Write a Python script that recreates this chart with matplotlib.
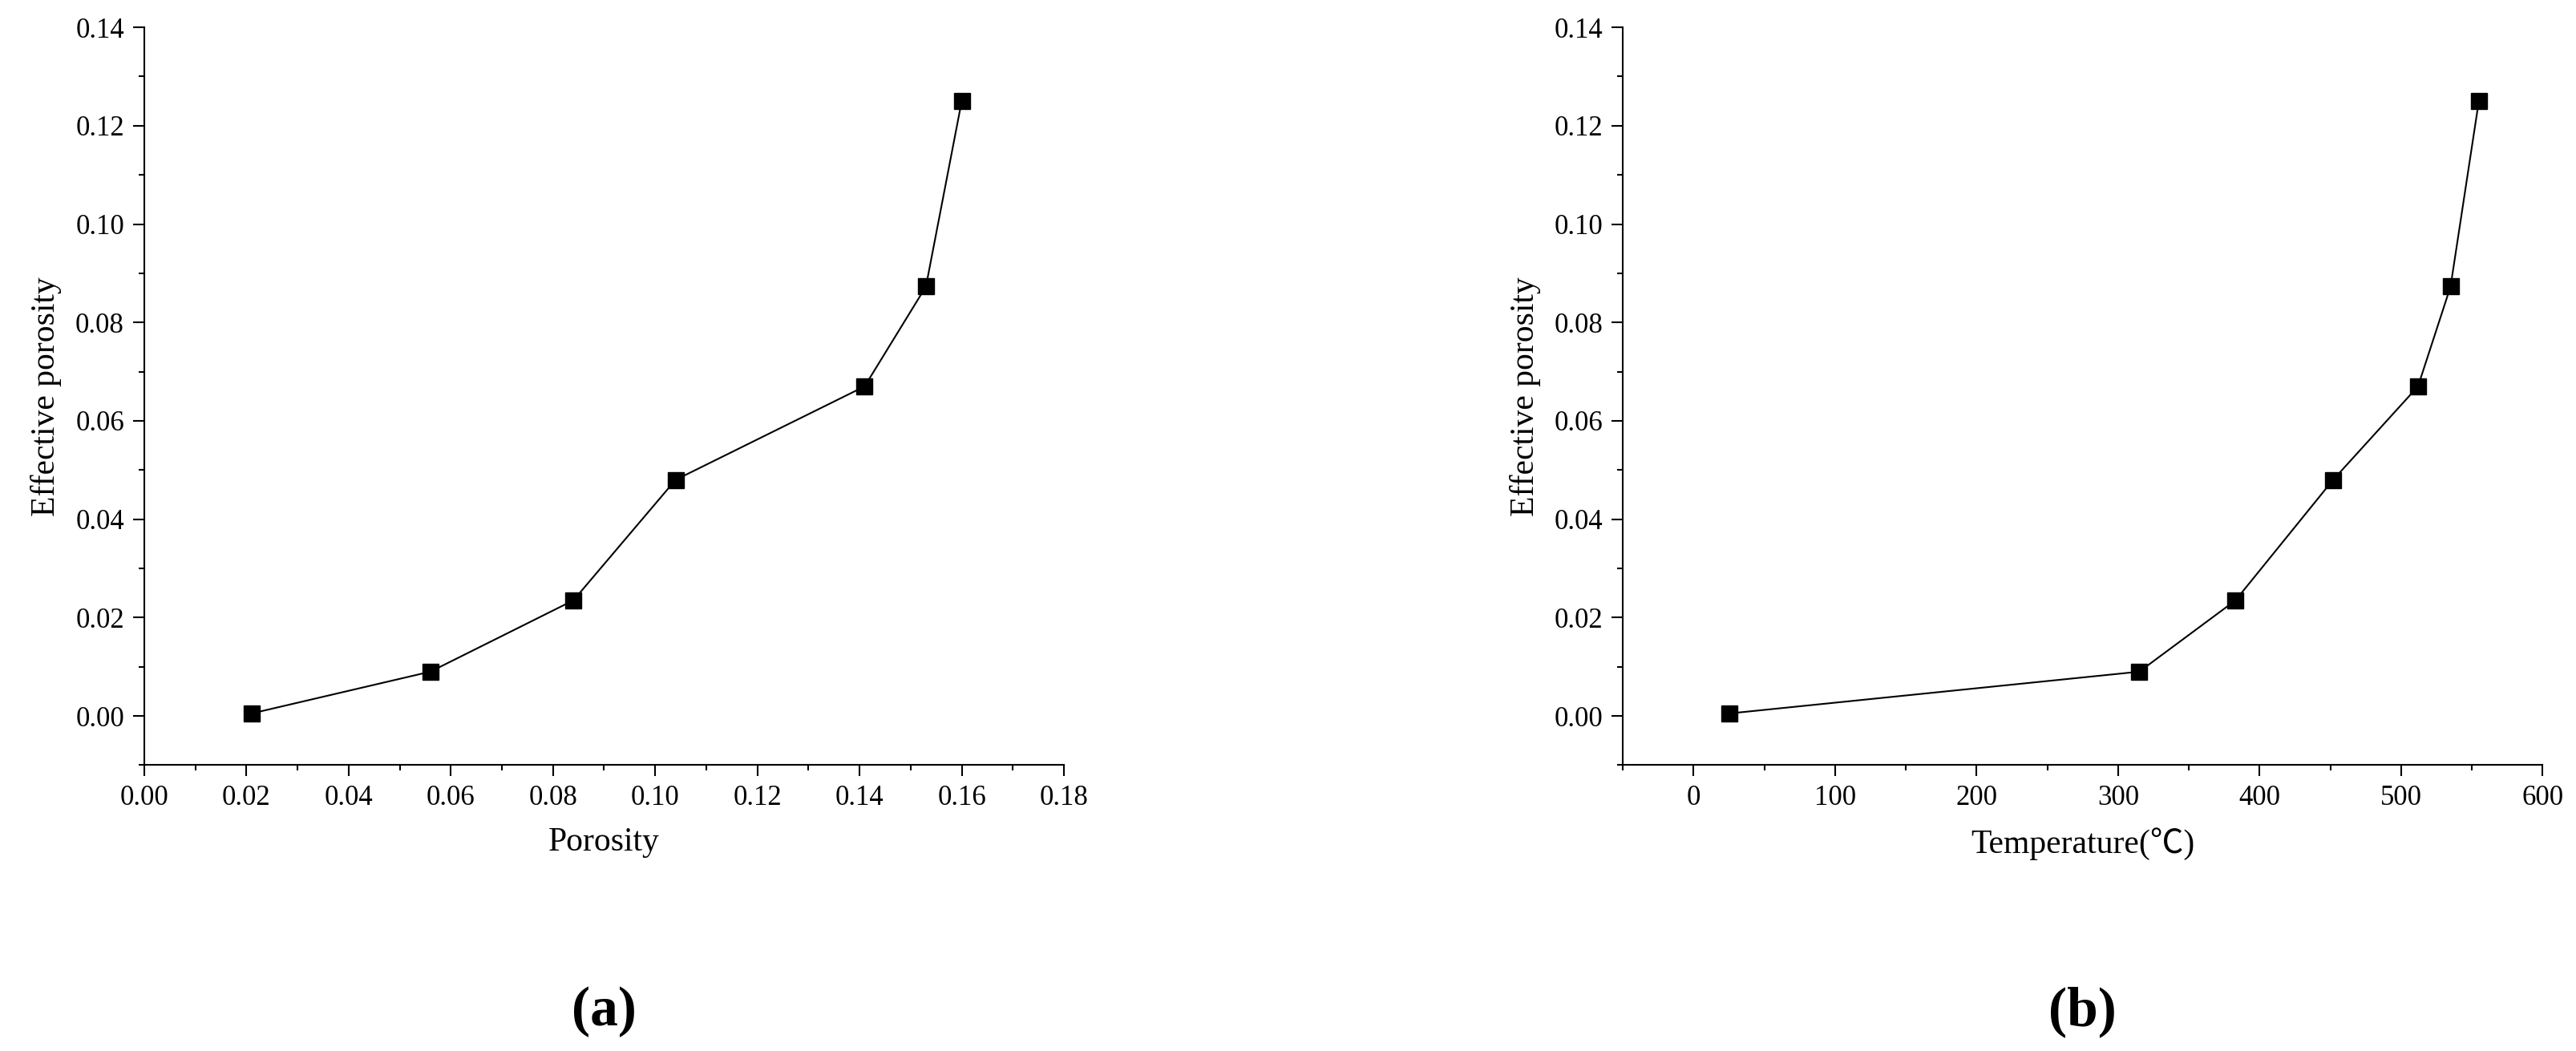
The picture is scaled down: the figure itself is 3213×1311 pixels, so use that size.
import matplotlib
matplotlib.use("Agg")
import matplotlib.pyplot as plt
from matplotlib.ticker import MultipleLocator, FormatStrFormatter

porosity = [0.021, 0.056, 0.084, 0.104, 0.141, 0.153, 0.160]
temperature = [25, 315, 383, 452, 512, 535, 555]
effective = [0.0005, 0.009, 0.0235, 0.048, 0.067, 0.0873, 0.125]

plt.rcParams['font.family'] = ['Liberation Serif', 'Noto Sans CJK SC', 'DejaVu Sans']
fig = plt.figure(figsize=(32.13, 13.11), dpi=100)
ax1 = fig.add_axes([0.056, 0.272, 0.357, 0.702])
ax2 = fig.add_axes([0.630, 0.272, 0.357, 0.702])

for ax, x, xlab, lab, xr, xmaj in [
        (ax1, porosity, 'Porosity', '(a)', (0, 0.18), 0.02),
        (ax2, temperature, 'Temperature(℃)', '(b)', (-50, 600), 100)]:
    ax.plot(x, effective, color='black', lw=1.5, marker='s', ms=14, mfc='black')
    ax.set_xlim(*xr)
    ax.set_ylim(-0.01, 0.14)
    ax.xaxis.set_major_locator(MultipleLocator(xmaj))
    ax.xaxis.set_minor_locator(MultipleLocator(xmaj / 2))
    ax.yaxis.set_major_locator(MultipleLocator(0.02))
    ax.yaxis.set_minor_locator(MultipleLocator(0.01))
    ax.yaxis.set_major_formatter(FormatStrFormatter('%.2f'))
    if xmaj < 1:
        ax.xaxis.set_major_formatter(FormatStrFormatter('%.2f'))
    for s in ('top', 'right'):
        ax.spines[s].set_visible(False)
    for s in ('left', 'bottom'):
        ax.spines[s].set_linewidth(1.5)
    ax.tick_params(which='major', direction='out', length=10, width=1.5, labelsize=25, pad=8)
    ax.tick_params(which='minor', direction='out', length=5, width=1.5)
    ax.set_xlabel(xlab, fontsize=30, labelpad=14)
    ax.set_ylabel('Effective porosity', fontsize=30, labelpad=12)
    ax.text(0.5, -0.30, lab, transform=ax.transAxes, ha='center', va='top',
            fontsize=50, fontweight='bold')

fig.savefig('out.png', dpi=100)
